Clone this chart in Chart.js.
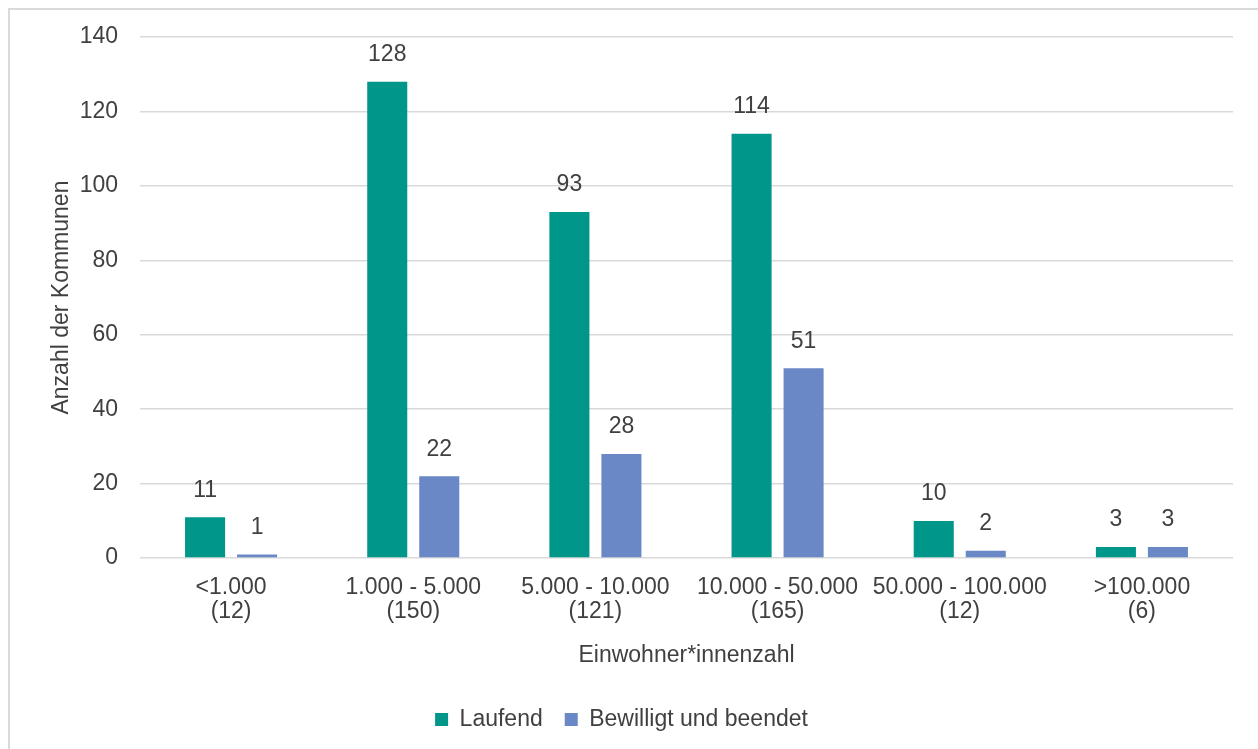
<!DOCTYPE html>
<html>
<head>
<meta charset="utf-8">
<script src="https://cdn.jsdelivr.net/npm/chart.js@4"></script>
<style>
  body { margin: 0; background: #fff; }
  .frame { position: absolute; left: 8px; top: 8px; width: 1300px; height: 800px; border: 2px solid #dadada; }
  .chart-box { position: absolute; left: 0; top: 0; width: 1258px; height: 749px; }
</style>
</head>
<body>
<div class="frame"></div>
<div class="chart-box"><canvas id="myChart"></canvas></div>
<script>
// Größenklassen (Einwohner*innen) mit Anzahl Kommunen in Klammern
var categories = [
    ['<1.000', '(12)'],
    ['1.000 - 5.000', '(150)'],
    ['5.000 - 10.000', '(121)'],
    ['10.000 - 50.000', '(165)'],
    ['50.000 - 100.000', '(12)'],
    ['>100.000', '(6)']
];
var laufend = [11, 128, 93, 114, 10, 3];
var bewilligtBeendet = [1, 22, 28, 51, 2, 3];
var yTicks = [0, 20, 40, 60, 80, 100, 120, 140];

var textColor = '#404040';
var fontFamily = '"Liberation Sans", Arial, sans-serif';

// Werte über die Balken schreiben
var valueLabels = {
    id: 'valueLabels',
    afterDatasetsDraw: function (chart) {
        var ctx = chart.ctx;
        ctx.save();
        ctx.font = '23px ' + fontFamily;
        ctx.fillStyle = textColor;
        ctx.textAlign = 'center';
        ctx.textBaseline = 'middle';
        chart.data.datasets.forEach(function (ds, i) {
            chart.getDatasetMeta(i).data.forEach(function (bar, j) {
                ctx.fillText(String(ds.data[j]), bar.x, bar.y - 27);
            });
        });
        ctx.restore();
    }
};

var chartConfig = {
    type: 'bar',
    data: {
        labels: categories,
        datasets: [{
            label: 'Laufend',
            data: laufend,
            backgroundColor: '#00968a'
        }, {
            label: 'Bewilligt und beendet',
            data: bewilligtBeendet,
            backgroundColor: '#6a88c6'
        }]
    },
    options: {
        responsive: true,
        maintainAspectRatio: false,
        animation: false,
        categoryPercentage: 0.571,
        barPercentage: 0.77,
        layout: { padding: { left: 10, top: 37, right: 25, bottom: 8 } },
        plugins: {
            tooltip: { enabled: false },
            legend: {
                position: 'bottom',
                labels: {
                    boxWidth: 13,
                    boxHeight: 13,
                    padding: 22,
                    color: textColor,
                    font: { family: fontFamily, size: 23 }
                }
            }
        },
        scales: {
            x: {
                grid: { display: false },
                border: { display: false },
                ticks: {
                    color: textColor,
                    padding: 9,
                    maxRotation: 0,
                    autoSkip: false,
                    font: { family: fontFamily, size: 23, lineHeight: 1.05 }
                },
                title: {
                    display: true,
                    text: 'Einwohner*innenzahl',
                    color: textColor,
                    padding: { top: 9, bottom: 17 },
                    font: { family: fontFamily, size: 23 }
                }
            },
            y: {
                min: 0,
                max: 140,
                afterFit: function (scale) { scale.width = 130; },
                afterBuildTicks: function (scale) {
                    scale.ticks = yTicks.map(function (v) { return { value: v }; });
                },
                grid: { color: '#d9d9d9', lineWidth: 1.5, drawTicks: false },
                border: { display: false },
                ticks: {
                    color: textColor,
                    padding: 22,
                    font: { family: fontFamily, size: 23 }
                },
                title: {
                    display: true,
                    text: 'Anzahl der Kommunen',
                    color: textColor,
                    padding: { top: 38, bottom: 0 },
                    font: { family: fontFamily, size: 23 }
                }
            }
        }
    },
    plugins: [valueLabels]
};

var myChart = new Chart(document.getElementById('myChart'), chartConfig);
</script>
</body>
</html>
